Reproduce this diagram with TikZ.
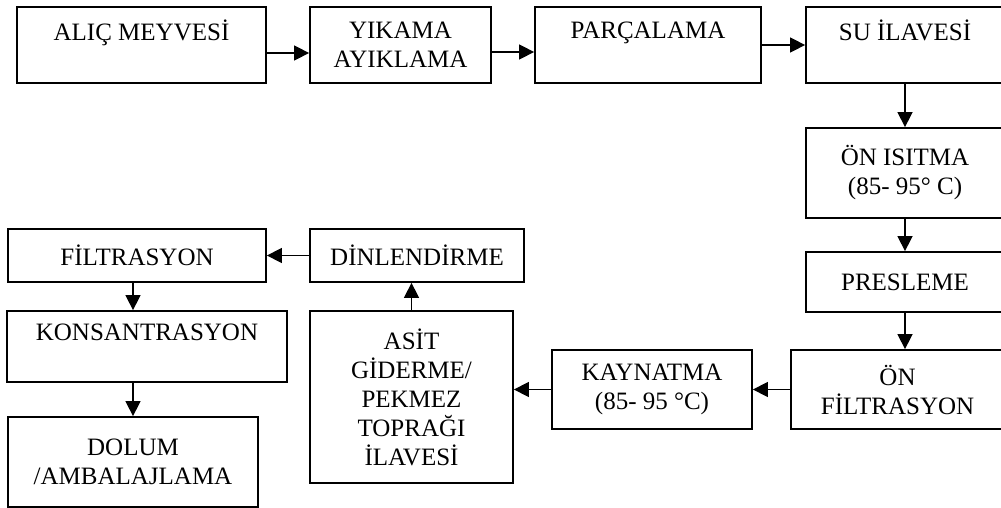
\documentclass[tikz,border=0pt]{standalone}
\usepackage{fontspec}
\setmainfont{Liberation Serif}
\usepackage{tikz}
\usetikzlibrary{arrows.meta}

\begin{document}
\begin{tikzpicture}[x=0.5pt, y=-0.5pt,
  stepbox/.style={draw, line width=0.9pt, rectangle, inner sep=0pt, align=center,
    font=\fontsize{12.5}{14.5}\selectfont},
  flow/.style={-{Triangle[length=7.5pt, width=7.5pt]}, line width=0.75pt}]
\path[use as bounding box] (0,0) rectangle (1001,508);
\clip (0,0) rectangle (1001,508);
% top row
\node[stepbox, minimum width=124.5pt, minimum height=38pt] (alic) at (141.5,45) {ALIÇ MEYVESİ\\~};
\node[stepbox, minimum width=90.5pt, minimum height=38pt] (yikama) at (400.5,45) {YIKAMA\\AYIKLAMA};
\node[stepbox, minimum width=113pt, minimum height=38pt] (parcala) at (648,45) {PARÇALAMA\\~};
\node[stepbox, minimum width=99pt, minimum height=38pt] (su) at (905,45) {SU İLAVESİ\\~};
% right column
\node[stepbox, minimum width=99pt, minimum height=45pt] (onisitma) at (905,173) {ÖN ISITMA\\(85- 95° C)};
\node[stepbox, minimum width=99pt, minimum height=30pt] (presleme) at (905,282) {PRESLEME};
\node[stepbox, minimum width=106.5pt, minimum height=39.5pt] (onfilt) at (897.5,389.5) {ÖN\\FİLTRASYON};
% bottom row
\node[stepbox, minimum width=100pt, minimum height=39.5pt] (kaynatma) at (652,389.5) {KAYNATMA\\(85- 95 °C)};
\node[stepbox, minimum width=101.5pt, minimum height=86pt] (asit) at (411.5,397) {ASİT\\GİDERME/\\PEKMEZ\\TOPRAĞI\\İLAVESİ};
\node[stepbox, minimum width=107pt, minimum height=26.5pt] (dinlen) at (417,255.5) {DİNLENDİRME};
% left column
\node[stepbox, minimum width=129pt, minimum height=26.5pt] (filt) at (137,255.5) {FİLTRASYON};
\node[stepbox, minimum width=140pt, minimum height=35.5pt] (konsan) at (147,346.5) {KONSANTRASYON\\~};
\node[stepbox, minimum width=125pt, minimum height=45pt] (dolum) at (133,462) {DOLUM\\/AMBALAJLAMA};

\draw[flow] ([yshift=-4pt]alic.east) -- ([yshift=-4pt]yikama.west);
\draw[flow] ([yshift=-3.5pt]yikama.east) -- ([yshift=-3.5pt]parcala.west);
\draw[flow] (parcala.east) -- (su.west);
\draw[flow] (su.south) -- (onisitma.north);
\draw[flow] (onisitma.south) -- (presleme.north);
\draw[flow] (presleme.south) -- (presleme.south |- onfilt.north);
\draw[flow] (onfilt.west) -- (kaynatma.east);
\draw[flow] (kaynatma.west) -- (kaynatma.west -| asit.east);
\draw[flow] (asit.north) -- (asit.north |- dinlen.south);
\draw[flow] (dinlen.west) -- (dinlen.west -| filt.east);
\draw[flow] ([xshift=-2pt]filt.south) -- ([xshift=-2pt]filt.south |- konsan.north);
\draw[flow] (dolum.north |- konsan.south) -- (dolum.north);
\end{tikzpicture}
\end{document}
